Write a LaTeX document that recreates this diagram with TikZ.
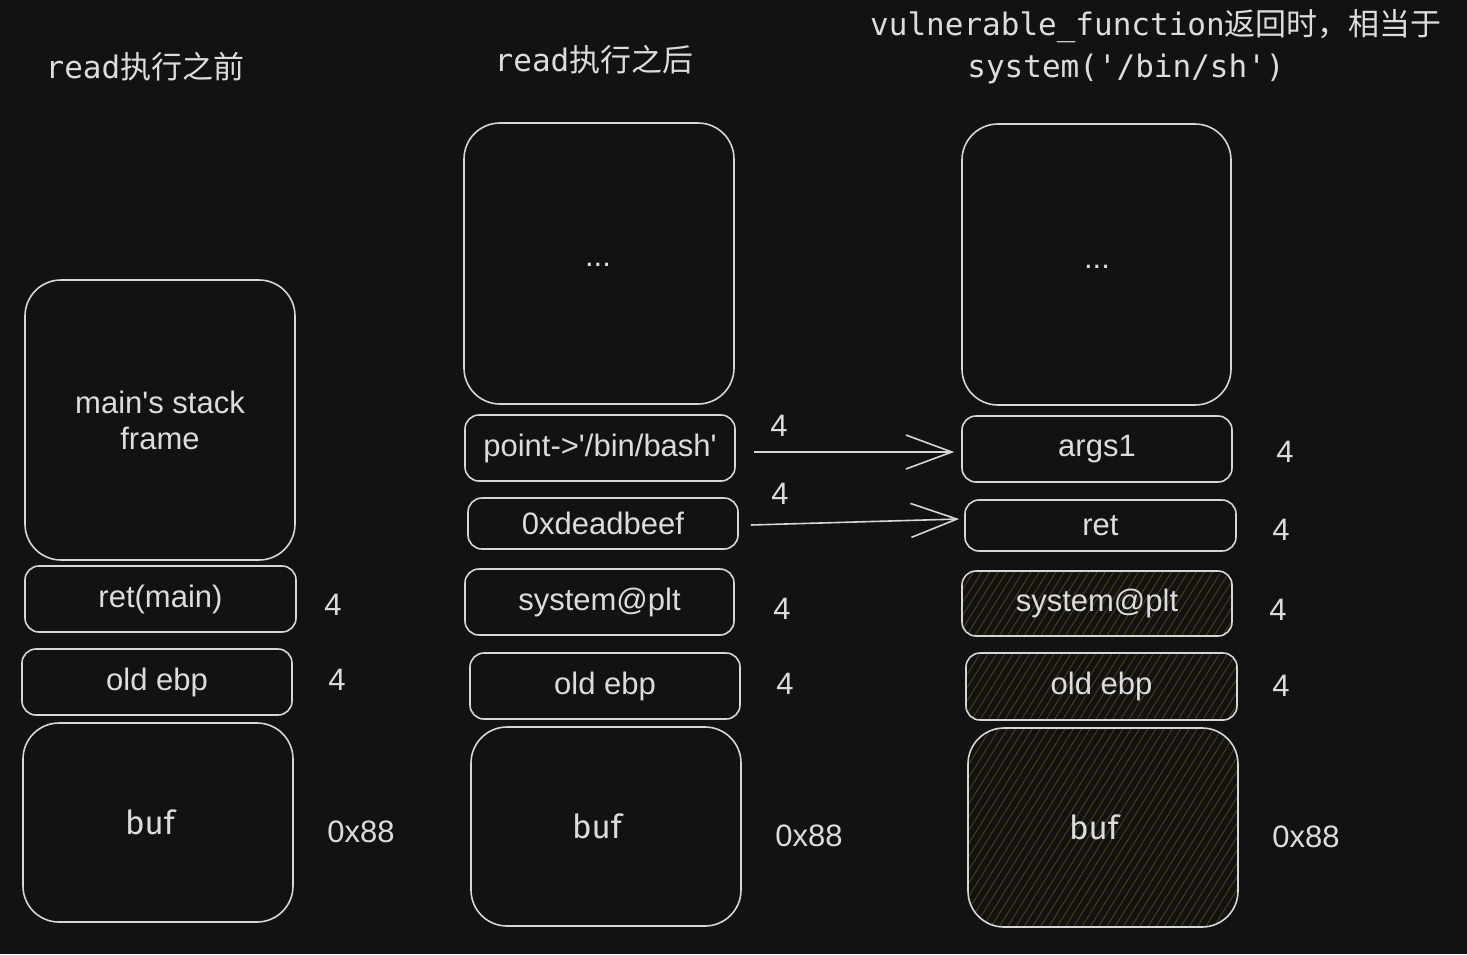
\documentclass[tikz,border=0pt]{standalone}
\usepackage{fontspec}
\setmainfont{Liberation Sans}[Ligatures=TeXOff]
\newfontfamily\titlefont{DejaVu Sans Mono}[Ligatures=TeXOff]
\newfontfamily\buffont{Fira Sans}
\newfontfamily\cjk{Noto Sans CJK SC}
\usetikzlibrary{arrows.meta,patterns.meta}
\definecolor{bg}{HTML}{121212}
\definecolor{fg}{HTML}{D6D6D6}
\definecolor{txt}{HTML}{DCDCDC}
\definecolor{hatch}{HTML}{4E3F14}
\tikzset{
  box/.style={draw=fg, line width=1.6pt, rounded corners=14pt, text=txt,
    font=\fontsize{31pt}{36pt}\selectfont, align=center, inner sep=0pt},
  bigbox/.style={box, rounded corners=36pt},
  buftxt/.style={font=\buffont\fontsize{33pt}{36pt}\selectfont},
  hatched/.style={pattern={Lines[angle=58,distance=7pt,line width=0.9pt]}, pattern color=hatch},
  lbl/.style={text=txt, font=\fontsize{31pt}{34pt}\selectfont, inner sep=0pt},
  ttl/.style={text=txt, font=\titlefont\fontsize{31pt}{36pt}\selectfont, inner sep=0pt},
  arr/.style={draw=fg, line width=1.6pt, -{Straight Barb[length=46pt,width=34pt,line width=1.6pt]}}
}
\begin{document}
\begin{tikzpicture}[x=1pt,y=-1pt]
\fill[bg] (0,0) rectangle (1467,954);
\useasboundingbox (0,0) rectangle (1467,954);

% titles
\node[ttl] (t1) at (145,67) {read{\cjk 执行之前}};
\node[ttl] (t2) at (594,60) {read{\cjk 执行之后}};
\node[ttl] (t3a) at (1156,26) {vulnerable\_function{\cjk 返回时，相当于}};
\node[ttl] (t3b) at (1126,69) {system('/bin/sh')};

% column 1
\node[bigbox, minimum width=270pt, minimum height=280pt] (c1main) at (160,420) {main's stack\\frame};
\node[box, minimum width=271pt, minimum height=66pt] (c1ret) at (160.5,599) {ret(main)};
\node[box, minimum width=270pt, minimum height=66pt] (c1ebp) at (157,682) {old ebp};
\node[bigbox, minimum width=270pt, minimum height=199pt] (c1buf) at (158,822.5) {};
\node[buftxt, text=txt] (c1buft) at (150,822) {buf};
\node[lbl] (l1a) at (333,605) {4};
\node[lbl] (l1b) at (337,680) {4};
\node[lbl] (l1c) at (361,832) {0x88};

% column 2
\node[bigbox, minimum width=270pt, minimum height=281pt] (c2top) at (599,263.5) {};
\node[text=txt, font=\fontsize{31pt}{34pt}\selectfont] (c2dots) at (598,265) {...};
\node[box, minimum width=270pt, minimum height=66pt] (c2point) at (600,448) {point->'/bin/bash'};
\node[box, minimum width=270pt, minimum height=51pt] (c2dead) at (603,523.5) {0xdeadbeef};
\node[box, minimum width=269pt, minimum height=66pt] (c2sys) at (599.5,602) {system@plt};
\node[box, minimum width=270pt, minimum height=66pt] (c2ebp) at (605,686) {old ebp};
\node[bigbox, minimum width=270pt, minimum height=199pt] (c2buf) at (606,826.5) {};
\node[buftxt, text=txt] (c2buft) at (597,826) {buf};
\node[lbl] (l2a) at (779,426) {4};
\node[lbl] (l2b) at (780,494) {4};
\node[lbl] (l2c) at (782,609) {4};
\node[lbl] (l2d) at (785,684) {4};
\node[lbl] (l2e) at (809,836) {0x88};

% column 3
\node[bigbox, minimum width=269pt, minimum height=281pt] (c3top) at (1096.5,264.5) {};
\node[text=txt, font=\fontsize{31pt}{34pt}\selectfont] (c3dots) at (1097,267) {...};
\node[box, minimum width=270pt, minimum height=66pt] (c3args) at (1097,449) {args1};
\node[box, minimum width=271pt, minimum height=51pt] (c3ret) at (1100.5,525.5) {ret};
\node[box, hatched, minimum width=270pt, minimum height=65pt] (c3sys) at (1097,603.5) {system@plt};
\node[box, hatched, minimum width=271pt, minimum height=67pt] (c3ebp) at (1101.5,686.5) {old ebp};
\node[bigbox, hatched, minimum width=270pt, minimum height=199pt] (c3buf) at (1103,827.5) {};
\node[buftxt, text=txt] (c3buft) at (1094,827) {buf};
\node[lbl] (l3a) at (1285,452) {4};
\node[lbl] (l3b) at (1281,530) {4};
\node[lbl] (l3c) at (1278,610) {4};
\node[lbl] (l3d) at (1281,686) {4};
\node[lbl] (l3e) at (1306,837) {0x88};

% arrows
\draw[arr] ([xshift=18pt,yshift=-4pt]c2point.east) -- ([xshift=-7pt,yshift=-3pt]c3args.west);
\draw[arr] ([xshift=12pt,yshift=-1.5pt]c2dead.east) -- ([xshift=-5pt,yshift=6.5pt]c3ret.west);
\end{tikzpicture}
\end{document}
